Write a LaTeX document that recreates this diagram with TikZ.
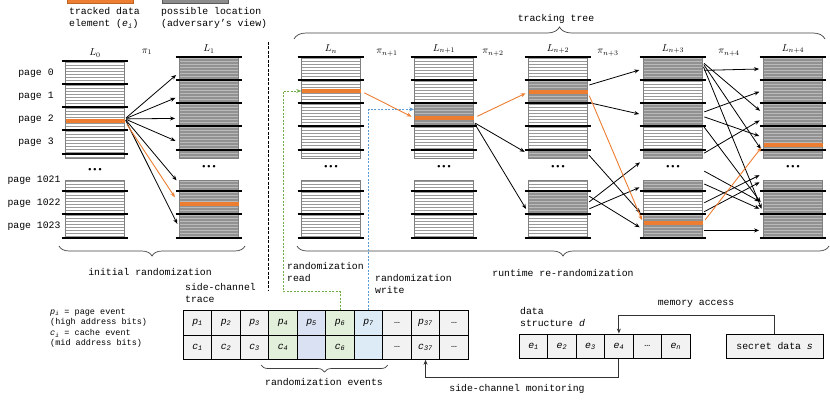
\documentclass[tikz,border=0pt]{standalone}
\usepackage{fontspec}
\setmainfont{Liberation Mono}
\usetikzlibrary{arrows.meta,calc,decorations.pathreplacing}
\definecolor{trackorange}{HTML}{ED7D31}
\definecolor{readgreen}{HTML}{70AD47}
\definecolor{writeblue}{HTML}{5B9BD5}
\definecolor{cellgray}{HTML}{F2F2F2}
\definecolor{cellgreen}{HTML}{E2EFDA}
\definecolor{cellblue}{HTML}{D9E1F2}
\definecolor{cellblueb}{HTML}{DDEBF7}
\newcommand{\ev}[2]{\textit{#1}\textsubscript{\textit{#2}}}
% one memory layout column: name, x, y offset of the top block, label, fill of the 8 slots
\newcommand{\memcol}[5]{%
  \node[collab] (#1lab) at (#2,{49+#3}) {#4};
  \foreach \f [count=\i] in {#5} {
    \ifcase\i\or\def\yt{57}\def\hh{23}\or\def\yt{80}\def\hh{23}\or\def\yt{103}\def\hh{23}\or\def\yt{126}\def\hh{23}\or\def\yt{149}\def\hh{9}\or\def\yt{180}\def\hh{11}\or\def\yt{191}\def\hh{23}\or\def\yt{214}\def\hh{23}\fi
    \ifnum\i<6 \pgfmathsetmacro\yt{\yt+#3}\fi
    \ifnum\i=5 \pgfmathsetmacro\hh{\hh-#3}\fi
    \node[page\f, minimum height=\hh pt, anchor=north] (#1s\i) at (#2,\yt) {};
  }
  \foreach \i in {1,2,3,4,7,8}
    \draw[pageline] ([xshift=-3.5pt]#1s\i.north west) -- ([xshift=3.5pt]#1s\i.north east);
  \foreach \i in {4,8}
    \draw[pageline] ([xshift=-3.5pt]#1s\i.south west) -- ([xshift=3.5pt]#1s\i.south east);
  \node[dotsn] (#1dots) at (#2,{167+0.75*#3}) {•••};
}
\tikzset{
  txt/.style={font=\fontsize{9.8}{12}\selectfont, inner sep=0pt},
  smalltxt/.style={font=\fontsize{8.5}{10}\selectfont, inner sep=0pt},
  lbl/.style={txt, text height=7pt, text depth=2pt},
  collab/.style={font=\fontsize{10}{12}\selectfont, inner sep=0pt},
  dotsn/.style={font=\fontsize{8.5}{8.5}\selectfont\bfseries, inner sep=0pt},
  stripes/.style={path picture={
    \foreach \k in {1.5,4.5,...,25.5}
      \draw[#1, line width=0.9pt] ([yshift=-\k pt]path picture bounding box.north west) -- ([yshift=-\k pt]path picture bounding box.north east);}},
  page/.style={draw=black!50, line width=0.8pt, minimum width=59pt, inner sep=0pt},
  pagew/.style={page, fill=white, stripes=black!40},
  pageg/.style={page, fill=black!43, stripes=black!27},
  pageline/.style={line width=2.2pt, black},
  trackbar/.style={fill=trackorange, minimum width=59pt, minimum height=3.5pt, inner sep=0pt},
  swatch/.style={minimum width=66pt, minimum height=5pt, inner sep=0pt, line width=0.8pt},
  flow/.style={-{Stealth[length=5pt,width=4pt]}, line width=0.8pt, shorten <=1.5pt, shorten >=4pt},
  orangeflow/.style={flow, draw=trackorange, line width=0.9pt, shorten <=4pt, shorten >=3pt},
  readflow/.style={draw=readgreen, dash pattern=on 2pt off 1.5pt, line width=0.8pt, -{Stealth[length=5pt,width=4pt]}},
  writeflow/.style={readflow, draw=writeblue},
  access/.style={draw=black!80, line width=0.8pt, -{Stealth[length=5pt,width=4pt]}},
  curly/.style={decorate, decoration={brace, amplitude=#1}, draw=black!75, line width=0.7pt},
  cell/.style={draw=black, line width=0.9pt, minimum width=28.5pt, minimum height=24.3pt, inner sep=0pt, font=\fontsize{9.8}{12}\selectfont},
}

\begin{document}
\begin{tikzpicture}[x=1pt, y=-1pt]
  \useasboundingbox (0,0) rectangle (830,401);

  % legend
  \node[swatch, fill=trackorange, draw=trackorange!80!black] (swtrack) at (100,0.5) {};
  \node[swatch, fill=black!45, draw=black!65] (swposs) at (195,0.5) {};
  \node[txt, anchor=north west, align=left] (legtrack) at (69,7.6) {tracked data\\element (\ev{e}{i})};
  \node[txt, anchor=north west, align=left] (legposs) at (161,7.6) {possible location\\(adversary's view)};

  % page labels
  \foreach \t/\y in {0/73,1/96,2/119,3/142}
    \node[lbl] (pg\t) at (36,\y) {page \t};
  \foreach \t/\y in {1021/180,1022/203,1023/226}
    \node[lbl] (pg\t) at (34,\y) {page \t};

  % memory layouts
  \memcol{c0}{95}{4}{$L_0$}{w,w,w,w,w,w,w,w}
  \memcol{c1}{209}{0}{$L_1$}{g,g,g,g,g,g,g,g}
  \memcol{c2}{331}{0}{$L_n$}{w,w,w,w,w,w,w,w}
  \memcol{c3}{444}{0}{$L_{n+1}$}{w,w,g,w,w,w,w,w}
  \memcol{c4}{558}{0}{$L_{n+2}$}{w,g,w,w,g,w,g,w}
  \memcol{c5}{673}{0}{$L_{n+3}$}{g,w,g,w,g,g,w,g}
  \memcol{c6}{793}{0}{$L_{n+4}$}{g,g,g,g,g,g,g,g}

  % tracked element
  \node[trackbar] (t0) at (95,121) {};
  \node[trackbar] (t1) at (209,204) {};
  \node[trackbar] (t2) at (331,91) {};
  \node[trackbar] (t3) at (444,118) {};
  \node[trackbar] (t4) at (558,92) {};
  \node[trackbar] (t5) at (673,223) {};
  \node[trackbar] (t6) at (793,145) {};

  % permutations
  \node[collab] (pi1) at (147,52) {$\pi_1$};
  \node[collab] (pin1) at (387,53) {$\pi_{n+1}$};
  \node[collab] (pin2) at (493,53) {$\pi_{n+2}$};
  \node[collab] (pin3) at (608,53) {$\pi_{n+3}$};
  \node[collab] (pin4) at (729,53) {$\pi_{n+4}$};

  \foreach \s/\d in {1/3.5,2/4.5,3/3.5,4/4.5,6/-2.5,8/1.5}
    \draw[flow] (c0s3.east) -- ($(c1s\s.west)+(0,\d)$);
  \draw[orangeflow, shorten >=8pt] (t0.east) -- (t1.west);

  \draw[orangeflow] (t2.east) -- (t3.west);

  \draw[flow] ($(c3s3.east)+(0,7.5)$) -- (c4s5.west);
  \draw[flow] ($(c3s3.east)+(0,7.5)$) -- ($(c4s7.west)+(0,9.5)$);
  \draw[orangeflow] (t3.east) -- (t4.west);

  \foreach \a/\da/\b/\db in {2/-6.5/1/0, 2/10.5/3/0, 5/0/8/-10, 7/-7.5/8/3.5, 7/0/5/6, 7/6.5/6/0}
    \draw[flow] ($(c4s\a.east)+(0,\da)$) -- ($(c5s\b.west)+(0,\db)$);
  \draw[orangeflow] (t4.east) -- (t5.west);

  \foreach \a/\da/\b/\db in {1/1.5/1/0, 1/-6.5/3/-1.5, 1/-5.5/5/-1.5, 1/-3.5/7/9.5, 3/-2.5/2/-1.5, 3/1.5/4/-0.5, 3/10.5/7/2.5, 5/0/3/3.5, 6/-15.5/7/0.5, 6/-2.5/7/7.5, 7/0.5/6/-12.5, 7/9.5/6/-5.5, 8/4.5/8/4.5}
    \draw[flow] ($(c5s\a.east)+(0,\da)$) -- ($(c6s\b.west)+(0,\db)$);
  \draw[orangeflow] (t5.east) -- (t6.west);

  % braces
  \draw[curly=12] (294,39) -- (825,39);
  \node[lbl] (treelab) at (556,19) {tracking tree};
  \draw[curly=10] (245,246) -- (59,246);
  \node[lbl] (initlab) at (150,273) {initial randomization};
  \draw[curly=10] (829,246) -- (297,246);
  \node[lbl] (runlab) at (563,274) {runtime re-randomization};

  \draw[black, line width=0.8pt, dash pattern=on 3pt off 1.5pt] (268,42) -- (268,291);

  % side-channel trace
  \node[smalltxt, anchor=north west, align=left] (legp) at (50,308.5) {\ev{p}{i} = page event\\(high address bits)};
  \node[smalltxt, anchor=north west, align=left] (legc) at (50,329.5) {\ev{c}{i} = cache event\\(mid address bits)};
  \node[txt, anchor=north west, align=left] (tracelab) at (185,283.6) {side-channel\\trace};

  \foreach \a/\b/\f [count=\k] in {\ev{p}{1}/\ev{c}{1}/cellgray, \ev{p}{2}/\ev{c}{2}/cellgray, \ev{p}{3}/\ev{c}{3}/cellgray,
      \ev{p}{4}/\ev{c}{4}/cellgreen, \ev{p}{5}//cellblue, \ev{p}{6}/\ev{c}{6}/cellgreen, \ev{p}{7}//cellblueb,
      \textellipsis/\textellipsis/cellgray, \ev{p}{37}/\ev{c}{37}/cellgray, \textellipsis/\textellipsis/cellgray} {
    \node[cell, fill=\f] (tp\k) at ({183.3+28.5*(\k-0.5)},322.85) {\a};
    \node[cell, fill=\f] (tc\k) at ({183.3+28.5*(\k-0.5)},347.15) {\b};
  }
  \draw[curly=7] (388,365) -- (261,365);
  \node[lbl] (evlab) at (324,383) {randomization events};

  % randomization read / write
  \node[txt, anchor=north west, align=left] (readlab) at (287,262.6) {randomization\\read};
  \node[txt, anchor=north west, align=left] (writelab) at (375,274.6) {randomization\\write};
  \draw[readflow] (tp6.north) -- ++(0,-18.5) -| ($(t2.west)+(-18,0)$) -- (t2.west);
  \draw[writeflow] (tp7.north) |- ($(c3s3.west)+(0,-5.5)$);

  % data structure and secret
  \node[txt, anchor=north west, align=left] (dslab) at (520,307.6) {data\\structure \textit{d}};
  \foreach \a [count=\k] in {\ev{e}{1},\ev{e}{2},\ev{e}{3},\ev{e}{4},\textellipsis,\ev{e}{n}}
    \node[cell, fill=cellgray, minimum width=28.45pt] (de\k) at ({519.3+28.45*(\k-0.5)},346.15) {\a};
  \node[cell, fill=cellgray, minimum width=97.3pt] (secret) at (774.6,346.3) {secret data \textit{s}};

  \draw[access] (secret.north) -- ++(0,-18.6) -| (de4.north);
  \node[lbl] (memlab) at (696,303) {memory access};
  \draw[access] (de4.south) -- ++(0,18.5) -| (tc9.south);
  \node[lbl] (monlab) at (517,389) {side-channel monitoring};
\end{tikzpicture}
\end{document}
